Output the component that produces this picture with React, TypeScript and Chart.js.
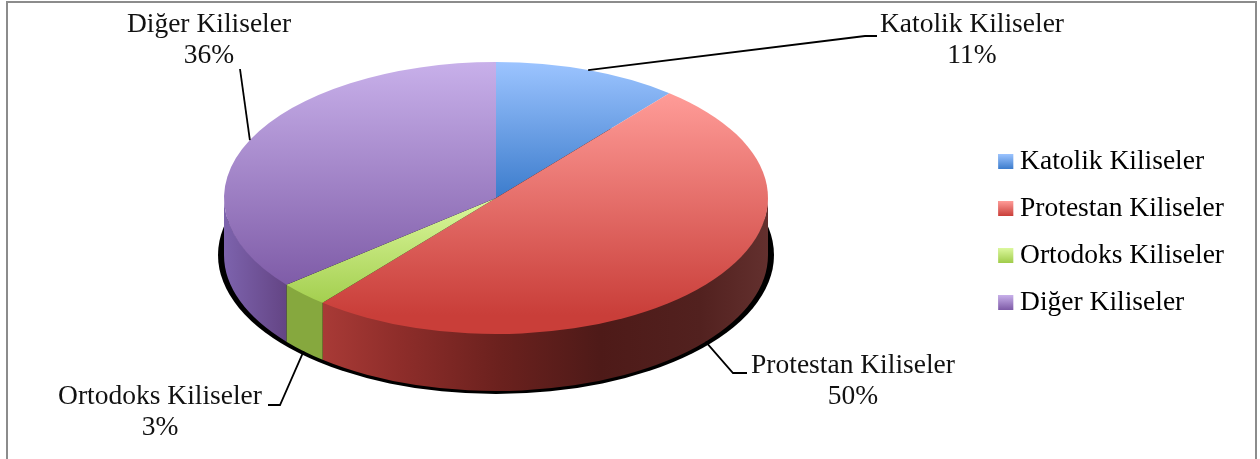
import React, { useEffect, useRef } from "react";
import { Chart, registerables } from "chart.js";

Chart.register(...registerables);

const categories = ["Katolik Kiliseler", "Protestan Kiliseler", "Ortodoks Kiliseler", "Diğer Kiliseler"];
const shares = [11, 50, 3, 36];
const percentLabels = ["11%", "50%", "3%", "36%"];

const baseColors = ["#6f9fe0", "#e0625e", "#bfe070", "#a284c8"];
const faceTop = ["#9cc4ff", "#ff9c98", "#dcf89e", "#c8b0ea"];
const faceBottom = ["#3c7ccc", "#c93e39", "#a0cc4a", "#7d5aa6"];
const faceRange = [[62, 198], [93, 315], [198, 310], [62, 290]];
const wallStops: [number, string][][] = [
  [[0, "#3a6aa8"], [1, "#3a6aa8"]],
  [[324, "#a83a36"], [400, "#8e2d2a"], [500, "#6b211e"], [600, "#4e1a18"], [700, "#52211f"], [768, "#63302e"]],
  [[286, "#86a83e"], [324, "#86a83e"]],
  [[224, "#7d63ad"], [286, "#644585"]],
];

const FONT = '"Liberation Serif", serif';
const FONT_SIZE = 27.5;
const CX = 496;
const CY = 198;
const RX = 272;
const RY = 136;
const DEPTH = 57;

const labelBlocks = [
  { x: 972, y: 25, line: [[877, 36], [865, 36]] },
  { x: 853, y: 366, line: [[747, 373], [733, 373]] },
  { x: 160, y: 397, line: [[268, 405], [280, 405]] },
  { x: 209, y: 25, line: [[240, 69]] },
];

function faceGradient(chart: any, i: number) {
  const area = chart.chartArea;
  if (!area) return baseColors[i];
  const cy = (area.top + area.bottom) / 2;
  const toY = (ys: number) => cy + ((ys - CY) * RX) / RY;
  const g = chart.ctx.createLinearGradient(0, toY(faceRange[i][0]), 0, toY(faceRange[i][1]));
  g.addColorStop(0, faceTop[i]);
  g.addColorStop(1, faceBottom[i]);
  return g;
}

const pie3d = {
  id: "pie3d",
  beforeDraw(chart: any) {
    const ctx = chart.ctx;
    ctx.save();
    ctx.fillStyle = "#ffffff";
    ctx.fillRect(0, 0, chart.width, chart.height);
    ctx.fillStyle = "#8c8c8c";
    ctx.fillRect(6, 1, 2, chart.height);
    ctx.fillRect(6, 1, 1251, 2);
    ctx.fillRect(1255, 1, 2, chart.height);
    ctx.restore();
  },
  beforeDatasetDraw(chart: any, args: any) {
    const ctx = chart.ctx;
    const arcs = chart.getDatasetMeta(args.index).data;
    ctx.save();
    ctx.fillStyle = "#000000";
    ctx.beginPath();
    ctx.ellipse(CX, CY + DEPTH, RX + 6, RY + 3, 0, 0, Math.PI * 2);
    ctx.fill();
    arcs.forEach((arc: any, i: number) => {
      const a = Math.max(arc.startAngle, 0);
      const b = Math.min(arc.endAngle, Math.PI);
      if (b <= a) return;
      const stops = wallStops[i];
      const x0 = stops[0][0];
      const x1 = stops[stops.length - 1][0];
      const g = ctx.createLinearGradient(x0, 0, x1, 0);
      stops.forEach(([x, c]) => g.addColorStop((x - x0) / (x1 - x0 || 1), c));
      ctx.fillStyle = g;
      ctx.beginPath();
      ctx.ellipse(CX, CY - 1, RX, RY, 0, a, b);
      ctx.ellipse(CX, CY + DEPTH, RX, RY, 0, b, a, true);
      ctx.closePath();
      ctx.fill();
    });
    ctx.restore();
    const first = arcs[0];
    ctx.save();
    ctx.translate(CX, CY);
    ctx.scale(1, RY / RX);
    ctx.translate(-first.x, -first.y);
  },
  afterDatasetDraw(chart: any) {
    chart.ctx.restore();
  },
  afterDraw(chart: any) {
    const ctx = chart.ctx;
    const arcs = chart.getDatasetMeta(0).data;
    ctx.save();
    const boxes = chart.legend.legendHitBoxes || [];
    boxes.forEach((h: any, i: number) => {
      const mid = h.top + h.height / 2;
      const g = ctx.createLinearGradient(0, mid - 7.5, 0, mid + 7.5);
      g.addColorStop(0, faceTop[i]);
      g.addColorStop(1, faceBottom[i]);
      ctx.fillStyle = g;
      ctx.fillRect(h.left, mid - 7.5, 15, 15);
    });
    ctx.strokeStyle = "#000000";
    ctx.lineWidth = 1.8;
    labelBlocks.forEach((b, i) => {
      const arc = arcs[i];
      const m = (arc.startAngle + arc.endAngle) / 2;
      const front = Math.sin(m) > 0;
      ctx.beginPath();
      ctx.moveTo(CX + RX * Math.cos(m), CY + RY * Math.sin(m) + (front ? DEPTH : 0));
      [...b.line].reverse().forEach((p) => ctx.lineTo(p[0], p[1]));
      ctx.stroke();
      ctx.fillStyle = "#111111";
      ctx.font = `${FONT_SIZE}px ${FONT}`;
      ctx.textAlign = "center";
      ctx.textBaseline = "middle";
      ctx.fillText(categories[i], b.x, b.y);
      ctx.fillText(percentLabels[i], b.x, b.y + 31);
    });
    ctx.restore();
  },
};

export default function App() {
  const ref = useRef<HTMLCanvasElement>(null);
  useEffect(() => {
    const chart = new Chart(ref.current as HTMLCanvasElement, {
      type: "pie",
      data: {
        labels: categories,
        datasets: [
          {
            data: shares,
            borderWidth: 0,
            clip: false as any,
            backgroundColor: (c: any) => faceGradient(c.chart, c.dataIndex),
          },
        ],
      },
      options: {
        responsive: false,
        animation: false,
        radius: RX,
        rotation: 0,
        layout: { padding: { right: 26, top: 5 } },
        plugins: {
          tooltip: { enabled: false },
          legend: {
            position: "right",
            labels: {
              boxWidth: 8,
              boxHeight: 15,
              padding: 19.5,
              color: "#111111",
              font: { family: FONT, size: FONT_SIZE },
              generateLabels: () =>
                categories.map((text, i) => ({
                  text,
                  fillStyle: baseColors[i],
                  strokeStyle: baseColors[i],
                  lineWidth: 0,
                  hidden: false,
                  index: i,
                })),
            },
          },
        },
      } as any,
      plugins: [pie3d],
    });
    return () => chart.destroy();
  }, []);
  return (
    <div style={{ position: "absolute", left: 0, top: 0, width: 1260, height: 459, overflow: "hidden" }}>
      <canvas ref={ref} width={1260} height={459} style={{ display: "block" }} />
    </div>
  );
}
